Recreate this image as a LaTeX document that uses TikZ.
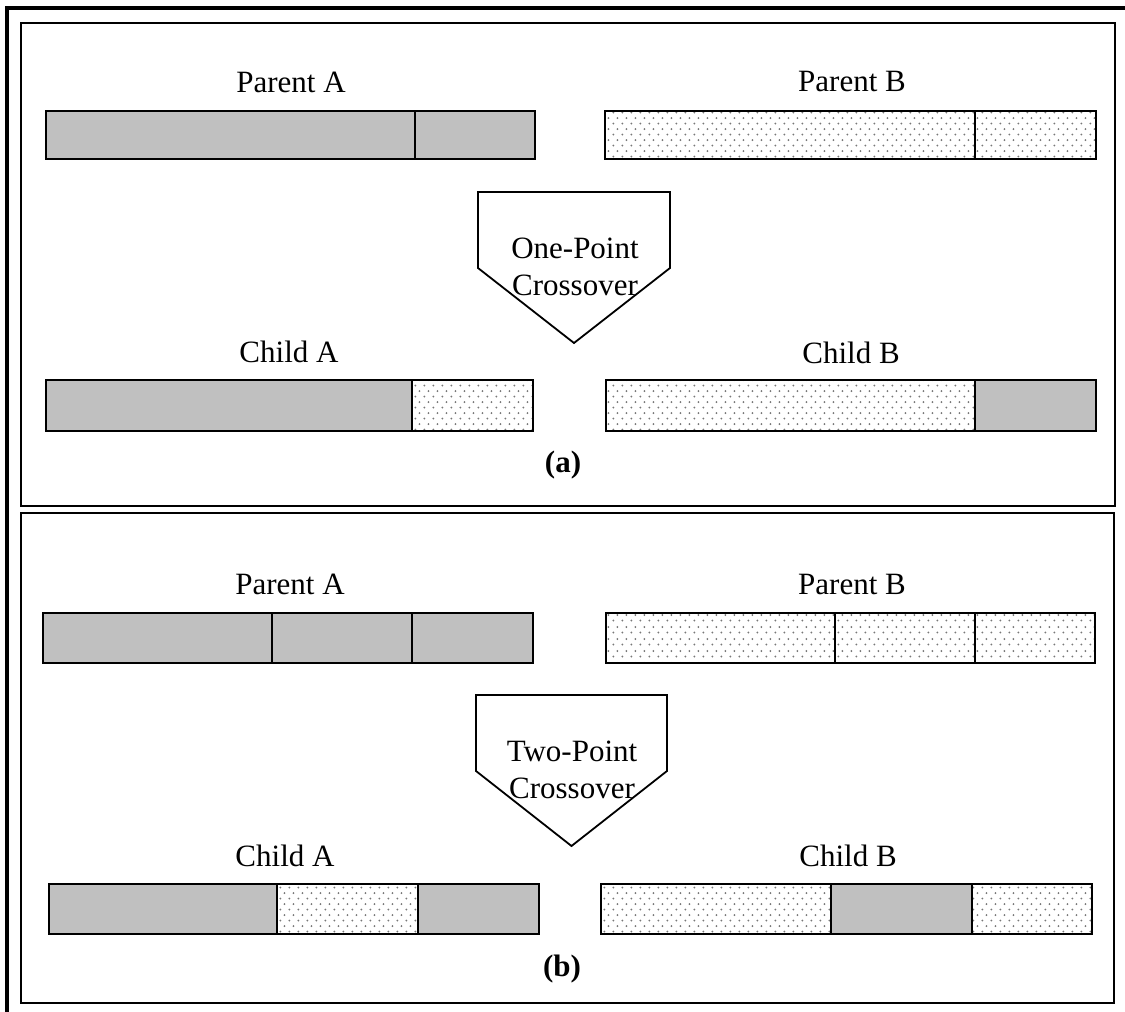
\documentclass[tikz,border=0pt]{standalone}
\usepackage{fontspec}
\setmainfont{Liberation Serif}
\usetikzlibrary{patterns}
\definecolor{geneA}{RGB}{192,192,192}
\definecolor{dotcol}{RGB}{120,120,120}
\pgfdeclarepatternformonly{sparsedots}{\pgfpoint{0pt}{0pt}}{\pgfpoint{9pt}{11.4pt}}{\pgfpoint{9pt}{11.4pt}}{%
  \pgfpathcircle{\pgfpoint{1.5pt}{1.5pt}}{1.1pt}%
  \pgfpathcircle{\pgfpoint{6pt}{7.2pt}}{1.1pt}%
  \pgfusepath{fill}%
}
\begin{document}
\begin{tikzpicture}[x=1pt,y=-1pt,
  lbl/.style={font=\fontsize{31}{37}\selectfont, inner sep=0pt},
  boldlbl/.style={font=\fontsize{31}{37}\selectfont\bfseries, inner sep=0pt},
  panel/.style={draw=black, line width=2pt},
  genA/.style={draw=black, line width=2pt, fill=geneA},
  genB/.style={draw=black, line width=2pt, preaction={fill=white}, pattern=sparsedots, pattern color=dotcol},
  arrowbox/.style={draw=black, line width=1.8pt, line join=miter}]
\useasboundingbox (0,0) rectangle (1125,1012);
\clip (0,0) rectangle (1125,1012);
% outer frame
\draw[line width=4pt] (7,1040) -- (7,8) -- (1150,8);
% panels
\draw[panel] (21,23) rectangle (1115,506);
\draw[panel] (21,513) rectangle (1114,1003);

% ---------- panel (a) ----------
\node[lbl] (pa1) at (291,82) {Parent A};
\node[lbl] (pb1) at (852,82) {Parent B};
\draw[genA] (46,111) rectangle (415,159);
\draw[genA] (415,111) rectangle (535,159);
\draw[genB] (605,111) rectangle (975,159);
\draw[genB] (975,111) rectangle (1096,159);

\draw[arrowbox] (478,192) -- (670,192) -- (670,268) -- (574,343) -- (478,268) -- cycle;
\node[lbl, anchor=base] (op1) at (575,258) {One-Point};
\node[lbl, anchor=base] (co1) at (575,295) {Crossover};

\node[lbl] (ca1) at (289,352) {Child A};
\node[lbl] (cb1) at (851,353) {Child B};
\draw[genA] (46,380) rectangle (412,431);
\draw[genB] (412,380) rectangle (533,431);
\draw[genB] (606,380) rectangle (975,431);
\draw[genA] (975,380) rectangle (1096,431);

\node[boldlbl] (la) at (563,465) {(a)};

% ---------- panel (b) ----------
\node[lbl] (pa2) at (290,584) {Parent A};
\node[lbl] (pb2) at (852,584) {Parent B};
\draw[genA] (43,613) rectangle (272,663);
\draw[genA] (272,613) rectangle (412,663);
\draw[genA] (412,613) rectangle (533,663);
\draw[genB] (606,613) rectangle (835,663);
\draw[genB] (835,613) rectangle (975,663);
\draw[genB] (975,613) rectangle (1095,663);

\draw[arrowbox] (476,695) -- (667,695) -- (667,771) -- (571.5,846) -- (476,771) -- cycle;
\node[lbl, anchor=base] (tp2) at (572,761) {Two-Point};
\node[lbl, anchor=base] (co2) at (572,798) {Crossover};

\node[lbl] (ca2) at (285,856) {Child A};
\node[lbl] (cb2) at (848,856) {Child B};
\draw[genA] (49,884) rectangle (277,934);
\draw[genB] (277,884) rectangle (418,934);
\draw[genA] (418,884) rectangle (539,934);
\draw[genB] (601,884) rectangle (831,934);
\draw[genA] (831,884) rectangle (972,934);
\draw[genB] (972,884) rectangle (1092,934);

\node[boldlbl] (lb) at (562,969) {(b)};
\end{tikzpicture}
\end{document}
